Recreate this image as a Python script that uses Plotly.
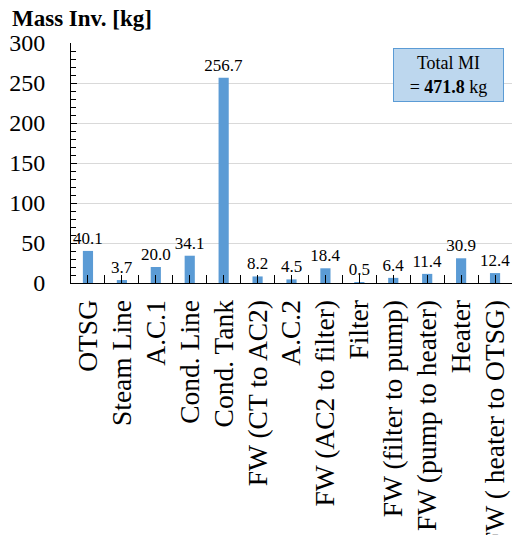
import plotly.graph_objects as go

categories = ["OTSG", "Steam Line", "A.C.1", "Cond. Line", "Cond. Tank",
              "FW (CT to AC2)", "A.C.2", "FW (AC2 to filter)", "Filter",
              "FW (filter to pump)", "FW (pump to heater)", "Heater",
              "FW ( heater to OTSG)"]
values = [40.1, 3.7, 20.0, 34.1, 256.7, 8.2, 4.5, 18.4, 0.5, 6.4, 11.4, 30.9, 12.4]
total_mi = 471.8

FONT = "Liberation Serif, Times New Roman, serif"

fig = go.Figure()
fig.add_trace(go.Bar(
    x=categories, y=values, width=0.3,
    marker=dict(color="#5B9BD5", line=dict(width=0)),
    text=[f"{v:.1f}" for v in values], textposition="outside",
    constraintext="none",
    textfont=dict(family=FONT, size=17, color="black"),
    cliponaxis=False, showlegend=False,
))

fig.update_layout(
    width=515, height=535,
    margin=dict(l=71, r=3, t=43, b=252),
    paper_bgcolor="white", plot_bgcolor="white",
    font=dict(family=FONT, color="black"),
    bargap=0.7,
    xaxis=dict(
        type="category", categoryorder="array", categoryarray=categories,
        range=[-0.5, 12.5], automargin=False,
        tickmode="linear", tick0=0, dtick=1,
        tickson="boundaries", ticks="inside", ticklen=8, tickcolor="black", tickwidth=1,
        showline=True, linecolor="black", linewidth=1,
        tickangle=-90, tickfont=dict(family=FONT, size=27.5, color="black"),
        showgrid=False, ticklabelstandoff=5,
    ),
    xaxis2=dict(
        overlaying="x", anchor="y", side="bottom", automargin=False,
        range=[-0.5, 12.5], tick0=0, dtick=1,
        ticks="inside", ticklen=8, tickcolor="black", tickwidth=1,
        showticklabels=False, showline=False, showgrid=False, zeroline=False,
    ),
    yaxis=dict(
        range=[0, 300], dtick=50, automargin=False,
        ticks="inside", ticklen=6, tickcolor="black",
        showline=True, linecolor="black", linewidth=1,
        showgrid=True, gridcolor="#D9D9D9", gridwidth=1,
        zeroline=False,
        tickfont=dict(family=FONT, size=24, color="black"),
        ticksuffix="\u2002\u2004",
        minor=dict(dtick=10, ticks="inside", ticklen=5, tickcolor="black", showgrid=False),
    ),
)

# invisible trace to activate xaxis2
fig.add_trace(go.Scatter(x=[0], y=[0], xaxis="x2", yaxis="y", mode="markers",
                         marker=dict(opacity=0), showlegend=False, hoverinfo="skip"))

fig.add_annotation(
    text="<b>Mass Inv. [kg]</b>", xref="paper", yref="paper",
    x=0, y=1, xanchor="left", yanchor="bottom",
    xshift=-61, yshift=10, showarrow=False,
    font=dict(family=FONT, size=23, color="black"),
)

fig.add_annotation(
    text=f"Total MI<br>= <b>{total_mi:.1f}</b> kg",
    xref="paper", yref="paper", x=0.855, y=0.865, xanchor="center", yanchor="middle",
    showarrow=False, align="center",
    font=dict(family=FONT, size=18, color="black"),
    bgcolor="#BDD7EE", bordercolor="#5B9BD5", borderwidth=1,
    width=107, height=50,
)

fig.write_html("out.html", config={"displayModeBar": False},
               post_script="document.body.style.margin='0';")
